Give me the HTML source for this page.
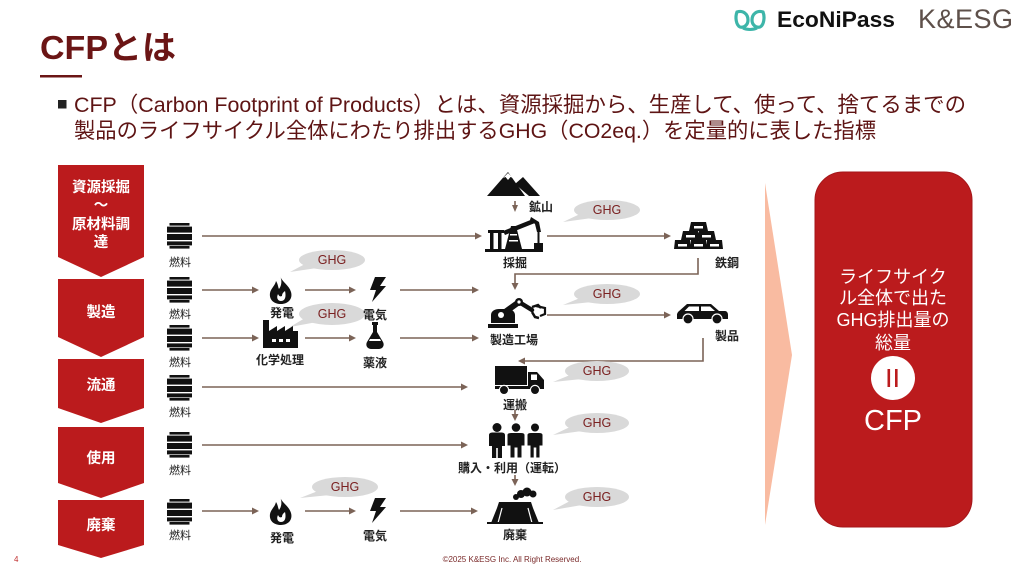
<!DOCTYPE html>
<html lang="ja">
<head>
<meta charset="utf-8">
<style>
  html, body { margin:0; padding:0; background:#fff; }
  body { width:1024px; height:576px; overflow:hidden; }
  svg { display:block; }
  text { font-family: "Liberation Sans", "Noto Sans CJK JP", sans-serif; }
</style>
</head>
<body>
<svg width="1024" height="576" viewBox="0 0 1024 576" xmlns="http://www.w3.org/2000/svg">
  <defs>
    <g id="drum" fill="#111">
      <rect x="2.5" y="0" width="20" height="2.6"/>
      <rect x="0" y="3.6" width="25" height="6"/>
      <rect x="0" y="11" width="25" height="6"/>
      <rect x="0" y="18.4" width="25" height="4"/>
      <rect x="2.5" y="23" width="20" height="2.6"/>
    </g>
    <g id="fire">
      <path fill="#111" d="M13 0 C15 6 22 9 24 16 C26 23 21 28 14 28 C7 28 2 24 3 17 C4 12 8 10 9 5 C11 8 11 11 12 13 C15 9 15 4 13 0Z"/>
      <path fill="#fff" d="M14 25 C11 25 9 22 11 18 C12 20 13 21 15 20 C15 17 17 16 18 15 C19 19 19 25 14 25Z"/>
    </g>
    <polygon id="bolt" fill="#111" points="7,0 18,0 12,9 18,9 4,25 8,13 2,13"/>
    <g id="arrR"><polygon points="0,0 -7,-3.5 -7,3.5" fill="#7b6357"/></g>
  </defs>

  <!-- Header logos -->
  <g transform="translate(735,8)">
    <path d="M2 4 C8 2 13 6 13 12 C13 17 9 20 5 19 C1 17 0 9 2 4Z" fill="none" stroke="#3db5a9" stroke-width="3.2"/>
    <path d="M28 4 C22 2 17 6 17 12 C17 17 21 20 25 19 C29 17 30 9 28 4Z" fill="none" stroke="#3db5a9" stroke-width="3.2"/>
    <path d="M8 20 C12 22 18 22 22 20" fill="none" stroke="#3db5a9" stroke-width="3"/>
  </g>
  <text x="777" y="27" font-size="22" font-weight="bold" fill="#111" textLength="118" lengthAdjust="spacingAndGlyphs">EcoNiPass</text>
  <text x="918" y="28" font-size="27" fill="#5e504a" letter-spacing="0.5">K&amp;ESG</text>

  <!-- Title -->
  <text x="40" y="59" font-size="33" font-weight="bold" fill="#6b1515" textLength="136" lengthAdjust="spacingAndGlyphs">CFPとは</text>
  <rect x="40" y="75" width="42" height="2.5" fill="#6b1515"/>

  <!-- Bullet text -->
  <rect x="58" y="100" width="8.5" height="8.5" fill="#222"/>
  <text x="74" y="112" font-size="21.4" fill="#5e1414" textLength="892" lengthAdjust="spacingAndGlyphs">CFP（Carbon Footprint of Products）とは、資源採掘から、生産して、使って、捨てるまでの</text>
  <text x="74" y="138" font-size="21.4" fill="#5e1414" textLength="802" lengthAdjust="spacingAndGlyphs">製品のライフサイクル全体にわたり排出するGHG（CO2eq.）を定量的に表した指標</text>

  <!-- Left chevrons -->
  <g fill="#bb1b1d">
    <polygon points="58,165 144,165 144,257 101,277 58,257"/>
    <polygon points="58,279 144,279 144,337 101,357 58,337"/>
    <polygon points="58,359 144,359 144,408 101,423 58,408"/>
    <polygon points="58,427 144,427 144,483 101,498 58,483"/>
    <polygon points="58,500 144,500 144,545 101,558 58,545"/>
  </g>
  <g fill="#fff" font-size="14.5" font-weight="bold" text-anchor="middle" dominant-baseline="central">
    <text x="101" y="188">資源採掘</text>
    <text x="101" y="206">～</text>
    <text x="101" y="225">原材料調</text>
    <text x="101" y="243">達</text>
    <text x="101" y="313">製造</text>
    <text x="101" y="386">流通</text>
    <text x="101" y="459">使用</text>
    <text x="101" y="526">廃棄</text>
  </g>

  <!-- Fuel drums -->
  <use href="#drum" x="167" y="223"/>
  <use href="#drum" x="167" y="277"/>
  <use href="#drum" x="167" y="325"/>
  <use href="#drum" x="167" y="375"/>
  <use href="#drum" x="167" y="432"/>
  <use href="#drum" x="167" y="499"/>
  <g fill="#222" font-size="11" text-anchor="middle" dominant-baseline="central">
    <text x="180" y="263">燃料</text>
    <text x="180" y="315">燃料</text>
    <text x="180" y="363">燃料</text>
    <text x="180" y="413">燃料</text>
    <text x="180" y="471">燃料</text>
    <text x="180" y="536">燃料</text>
  </g>

  <!-- Connectors -->
  <g stroke="#7b6357" stroke-width="1.6" fill="none">
    <line x1="202" y1="236" x2="477" y2="236"/>
    <line x1="547" y1="236" x2="665" y2="236"/>
    <polyline points="698,258 698,274 515,274 515,284"/>
    <line x1="202" y1="290" x2="253" y2="290"/>
    <line x1="305" y1="290" x2="350" y2="290"/>
    <line x1="400" y1="290" x2="473" y2="290"/>
    <line x1="202" y1="338" x2="253" y2="338"/>
    <line x1="305" y1="338" x2="350" y2="338"/>
    <line x1="400" y1="338" x2="473" y2="338"/>
    <line x1="547" y1="315" x2="665" y2="315"/>
    <polyline points="703,338 703,361 525,361"/>
    <line x1="202" y1="387" x2="462" y2="387"/>
    <line x1="202" y1="445" x2="462" y2="445"/>
    <line x1="202" y1="511" x2="253" y2="511"/>
    <line x1="305" y1="511" x2="350" y2="511"/>
    <line x1="400" y1="511" x2="472" y2="511"/>
    <line x1="515" y1="201" x2="515" y2="206"/>
    <line x1="515" y1="410" x2="515" y2="415"/>
    <line x1="515" y1="475" x2="515" y2="480"/>
  </g>
  <g fill="#7b6357">
    <use href="#arrR" x="482" y="236"/>
    <use href="#arrR" x="671" y="236"/>
    <use href="#arrR" x="259" y="290"/>
    <use href="#arrR" x="356" y="290"/>
    <use href="#arrR" x="479" y="290"/>
    <use href="#arrR" x="259" y="338"/>
    <use href="#arrR" x="356" y="338"/>
    <use href="#arrR" x="479" y="338"/>
    <use href="#arrR" x="671" y="315"/>
    <use href="#arrR" x="468" y="387"/>
    <use href="#arrR" x="468" y="445"/>
    <use href="#arrR" x="259" y="511"/>
    <use href="#arrR" x="356" y="511"/>
    <use href="#arrR" x="478" y="511"/>
    <polygon points="515,290 511.5,283 518.5,283"/>
    <polygon points="518,361 525,357.5 525,364.5"/>
    <polygon points="515,212 512,205 518,205"/>
    <polygon points="515,421 511.5,414 518.5,414"/>
    <polygon points="515,486 511.5,479 518.5,479"/>
  </g>

  <!-- GHG bubbles -->
  <g fill="#d9d9d9">
    <ellipse cx="607" cy="210" rx="33" ry="10"/><polygon points="580,214 592,218 563,222"/>
    <ellipse cx="607" cy="294" rx="33" ry="10"/><polygon points="580,298 592,302 563,305"/>
    <ellipse cx="332" cy="260" rx="33" ry="10"/><polygon points="305,264 317,268 290,272"/>
    <ellipse cx="332" cy="314" rx="33" ry="11"/><polygon points="305,318 317,322 290,327"/>
    <ellipse cx="597" cy="371" rx="32" ry="10"/><polygon points="570,375 582,379 553,382"/>
    <ellipse cx="597" cy="423" rx="32" ry="10"/><polygon points="570,427 582,431 553,435"/>
    <ellipse cx="597" cy="497" rx="32" ry="10"/><polygon points="570,501 582,505 553,510"/>
    <ellipse cx="345" cy="487" rx="33" ry="10"/><polygon points="318,491 330,495 300,498"/>
  </g>
  <g fill="#7a2020" font-size="12.5" text-anchor="middle" dominant-baseline="central">
    <text x="607" y="210">GHG</text>
    <text x="607" y="294">GHG</text>
    <text x="332" y="260">GHG</text>
    <text x="332" y="314">GHG</text>
    <text x="597" y="371">GHG</text>
    <text x="597" y="423">GHG</text>
    <text x="597" y="497">GHG</text>
    <text x="345" y="487">GHG</text>
  </g>

  <!-- Middle icons -->
  <use href="#fire" x="267" y="276"/>
  <use href="#bolt" x="368" y="277"/>
  <use href="#fire" x="267" y="497"/>
  <use href="#bolt" x="368" y="498"/>
  <!-- factory -->
  <g transform="translate(263,320)">
    <path fill="#111" d="M0 28 V0 H6 V11 L14 6 V11 L22 6 V11 L30 6 V11 H35 V28 Z"/>
    <g fill="#fff"><rect x="9" y="19" width="4" height="3"/><rect x="16" y="19" width="4" height="3"/><rect x="23" y="19" width="4" height="3"/></g>
  </g>
  <!-- flask -->
  <g transform="translate(366,322)">
    <rect x="6" y="0" width="6" height="3" fill="#111"/>
    <path fill="#111" d="M7 3 H11 V10 L17 20 C19 24 16 27 13 27 H5 C2 27 -1 24 1 20 L7 10 Z"/>
    <path fill="#fff" d="M4 17 H14 L15 19 H3 Z"/>
  </g>
  <!-- mountain -->
  <g transform="translate(487,172)">
    <path fill="#111" d="M0 24 L21 0 L38 24Z"/>
    <path fill="#fff" d="M16 6 L21 1 L26 6 L23.5 5 L21 8 L18.5 5Z"/>
    <path fill="#111" d="M28 12 L36 5 L53 24 H42Z"/>
  </g>
  <!-- pumpjack -->
  <g transform="translate(485,218)" fill="#111">
    <rect x="0" y="31" width="58" height="3"/>
    <rect x="3" y="12" width="16" height="3"/>
    <rect x="5" y="15" width="3.5" height="16"/>
    <rect x="13" y="15" width="3.5" height="16"/>
    <polygon points="20,31 26,8 31,8 37,31"/>
    <g fill="#fff"><rect x="25" y="16" width="7" height="1.5"/><rect x="24" y="22" width="9" height="1.5"/></g>
    <polygon points="18,13 48,1 50,5 20,17"/>
    <polygon points="46,-1 54,4 56,14 52,14 50,6 45,2"/>
    <rect x="52.5" y="14" width="2" height="17"/>
    <rect x="49" y="25" width="9" height="6"/>
  </g>
  <!-- gold bars -->
  <g transform="translate(675,222)">
    <g fill="#111">
      <polygon points="16,0 31,0 33,9 14,9"/>
      <polygon points="8,9 23,9 25,18 6,18"/>
      <polygon points="24,9 39,9 41,18 22,18"/>
      <polygon points="0,18 15,18 16,27 -1,27"/>
      <polygon points="16,18 31,18 32,27 15,27"/>
      <polygon points="32,18 47,18 48,27 31,27"/>
    </g>
    <g fill="#fff">
      <rect x="19" y="4" width="9" height="2.5"/>
      <rect x="11" y="13" width="9" height="2.5"/><rect x="27" y="13" width="9" height="2.5"/>
      <rect x="3" y="22" width="9" height="2.5"/><rect x="19" y="22" width="9" height="2.5"/><rect x="35" y="22" width="9" height="2.5"/>
    </g>
  </g>
  <!-- robot arm -->
  <g transform="translate(488,297)">
    <rect x="0" y="27" width="30" height="4" fill="#111"/>
    <path fill="#111" d="M3 26 V18 C3 14 7 12 11 12 H20 C24 12 27 15 27 18 V26 Z"/>
    <line x1="13" y1="18" x2="31" y2="5" stroke="#111" stroke-width="6" stroke-linecap="round"/>
    <circle cx="13" cy="18" r="3" fill="#fff"/>
    <line x1="31" y1="5" x2="44" y2="13" stroke="#111" stroke-width="4.5" stroke-linecap="round"/>
    <circle cx="31" cy="5" r="4" fill="#111"/>
    <circle cx="31" cy="5" r="1.6" fill="#fff"/>
    <path d="M44 10 L50 8 L53 11 M44 15 L47 20 L51 21" stroke="#111" stroke-width="2.5" fill="none"/>
    <path d="M48 9 L57 11 V17 L52 19" stroke="#111" stroke-width="2.2" fill="none"/>
  </g>
  <!-- car -->
  <g transform="translate(677,302)">
    <path fill="#111" d="M1 10 L10 2 H34 L42 9 H48 C50 9 51 11 51 13 V17 H0 V12 Z"/>
    <g fill="#fff"><polygon points="12,4.5 22,4.5 22,9 7.5,9"/><polygon points="24,4.5 33,4.5 38,9 24,9"/></g>
    <circle cx="11" cy="17" r="5" fill="#111" stroke="#fff" stroke-width="1.2"/>
    <circle cx="40" cy="17" r="5" fill="#111" stroke="#fff" stroke-width="1.2"/>
  </g>
  <!-- truck -->
  <g transform="translate(495,366)">
    <rect x="0" y="0" width="32" height="19" fill="#111"/>
    <path fill="#111" d="M33 6 H42 L49 14 V22 H33 Z"/>
    <rect x="36" y="8.5" width="6" height="5.5" fill="#fff"/>
    <rect x="0" y="20" width="49" height="3" fill="#111"/>
    <circle cx="9" cy="24" r="4.6" fill="#111" stroke="#fff" stroke-width="1.2"/>
    <circle cx="40" cy="24" r="4.6" fill="#111" stroke="#fff" stroke-width="1.2"/>
  </g>
  <!-- people -->
  <g transform="translate(487,423)" fill="#111">
    <g>
      <circle cx="10" cy="4.5" r="4.5"/>
      <path d="M2 12 C2 10 4 9.5 6 9.5 H14 C16 9.5 18 10 18 12 V23 H15 V35 H10.8 V25 H9.2 V35 H5 V23 H2 Z"/>
    </g>
    <g stroke="#fff" stroke-width="1">
      <circle cx="48" cy="4.5" r="4.5"/>
      <path d="M40 12 C40 10 42 9.5 44 9.5 H52 C54 9.5 56 10 56 12 V23 H53 V35 H48.8 V25 H47.2 V35 H43 V23 H40 Z"/>
      <circle cx="29" cy="4.5" r="4.8"/>
      <path d="M20 12 C20 10 22 9.5 24 9.5 H34 C36 9.5 38 10 38 12 V23 H35 V35 H30 V25 H28 V35 H23 V23 H20 Z"/>
    </g>
  </g>
  <!-- disposal -->
  <g transform="translate(487,488)">
    <circle cx="34" cy="6" r="4" fill="#111"/>
    <circle cx="40" cy="4" r="4.5" fill="#111"/>
    <circle cx="46" cy="6" r="3.5" fill="#111"/>
    <circle cx="29" cy="9" r="3" fill="#111"/>
    <path fill="#111" d="M4 35 L10 20 L12 14 H44 L46 20 L52 35Z"/>
    <g stroke="#fff" stroke-width="1.2"><line x1="15" y1="20" x2="11" y2="35"/><line x1="41" y1="20" x2="45" y2="35"/></g>
    <rect x="0" y="34" width="56" height="2" fill="#111"/>
  </g>

  <!-- icon labels -->
  <g fill="#222" font-size="12" font-weight="bold" text-anchor="middle" dominant-baseline="central">
    <text x="541" y="207">鉱山</text>
    <text x="515" y="263">採掘</text>
    <text x="727" y="263">鉄鋼</text>
    <text x="282" y="313">発電</text>
    <text x="375" y="315">電気</text>
    <text x="280" y="360">化学処理</text>
    <text x="375" y="363">薬液</text>
    <text x="514" y="340">製造工場</text>
    <text x="727" y="336">製品</text>
    <text x="515" y="405">運搬</text>
    <text x="512" y="468">購入・利用（運転）</text>
    <text x="515" y="535">廃棄</text>
    <text x="282" y="538">発電</text>
    <text x="375" y="536">電気</text>
  </g>

  <!-- Big salmon arrow -->
  <polygon points="765,183 792,355 765,525" fill="#f9bba1"/>

  <!-- Result box -->
  <rect x="815" y="172" width="157" height="355" rx="28" ry="28" fill="#bb1b1d" stroke="#a51619" stroke-width="1"/>
  <g fill="#fff" font-size="18" text-anchor="middle" dominant-baseline="central">
    <text x="893" y="277">ライフサイク</text>
    <text x="893" y="298">ル全体で出た</text>
    <text x="893" y="320">GHG排出量の</text>
    <text x="893" y="343">総量</text>
  </g>
  <circle cx="893" cy="378" r="22" fill="#fff"/>
  <rect x="887.5" y="369" width="2.6" height="18" fill="#bb1b1d"/>
  <rect x="895" y="369" width="2.6" height="18" fill="#bb1b1d"/>
  <text x="893" y="421" fill="#fff" font-size="29" text-anchor="middle" dominant-baseline="central">CFP</text>

  <!-- Footer -->
  <text x="14" y="562" font-size="8" fill="#c03030">4</text>
  <text x="512" y="562" font-size="8" fill="#7a2a2a" text-anchor="middle">©2025 K&amp;ESG Inc. All Right Reserved.</text>
</svg>
</body>
</html>
